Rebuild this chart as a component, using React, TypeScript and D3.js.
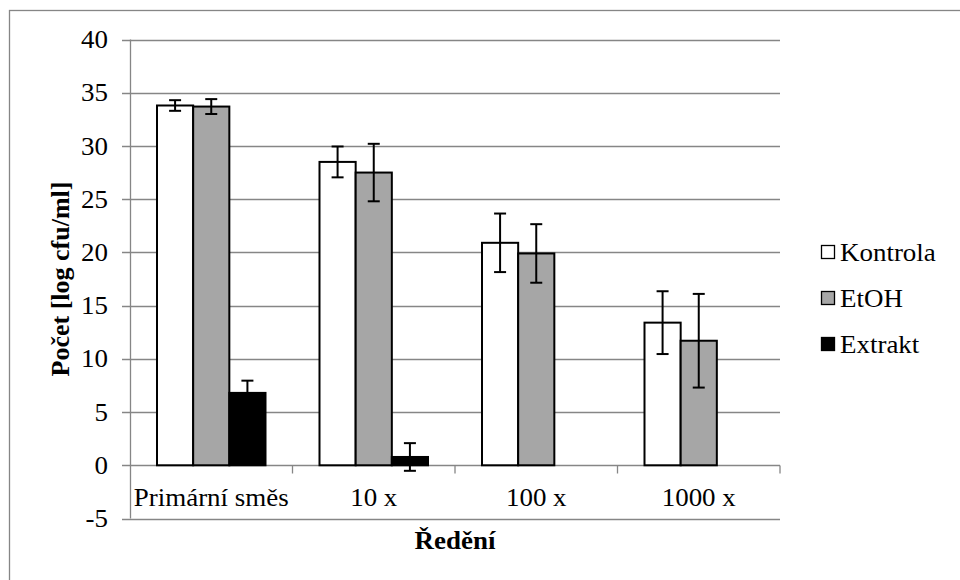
import { useEffect, useRef } from 'react';
import * as d3 from 'd3';

// categories and series
const categories = ['Primární směs', '10 x', '100 x', '1000 x'];
const seriesNames = ['Kontrola', 'EtOH', 'Extrakt'];
const seriesColors = ['#ffffff', '#a6a6a6', '#000000'];

const kontrola = [33.8, 28.5, 20.9, 13.4];
const kontrolaErr = [0.5, 1.45, 2.75, 2.95];
const etoh = [33.7, 27.5, 19.9, 11.7];
const etohErr = [0.7, 2.7, 2.75, 4.4];
const extrakt = [6.8, 0.78, 0, 0];
const extraktErr = [1.15, 1.3, 0, 0];

const yTicks = [-5, 0, 5, 10, 15, 20, 25, 30, 35, 40];

const values = [kontrola, etoh, extrakt];
const errors = [kontrolaErr, etohErr, extraktErr];

export default function App() {
    const ref = useRef<SVGSVGElement>(null);

    useEffect(() => {
        const svg = d3.select(ref.current);
        svg.selectAll('*').remove();

        // layout
        const left = 130;
        const right = 780;
        const top = 39.5;
        const bottom = 518.5;
        const gridColor = '#868686';
        // the original text is a bit wider than it is tall
        const stretch = 'scale(1.1,1)';

        const root = svg.append('g')
            .attr('font-family', 'Liberation Serif, Times New Roman, serif')
            .attr('font-size', 24.5);

        function place(x: number, y: number) {
            return 'translate(' + x + ',' + y + ') ' + stretch;
        }

        // outer frame (only top/left visible in window)
        root.append('rect')
            .attr('x', 9.5).attr('y', 10.5)
            .attr('width', 1000).attr('height', 1000)
            .attr('fill', 'white')
            .attr('stroke', gridColor)
            .attr('stroke-width', 1.3);

        // scales
        const y = d3.scaleLinear().domain([-5, 40]).range([bottom, top]);
        const x0 = d3.scaleBand().domain(categories).range([left, right]);
        const groupPad = 27;
        const x1 = d3.scaleBand().domain(seriesNames)
            .range([groupPad, x0.bandwidth() - groupPad]);

        // gridlines
        root.append('g').selectAll('line')
            .data(yTicks).enter()
            .append('line')
            .attr('x1', left - 8).attr('x2', right)
            .attr('y1', (d) => Math.round(y(d)) + 0.5)
            .attr('y2', (d) => Math.round(y(d)) + 0.5)
            .attr('stroke', gridColor)
            .attr('stroke-width', 1.3);

        // y axis line
        root.append('line')
            .attr('x1', left + 0.5).attr('x2', left + 0.5)
            .attr('y1', y(40)).attr('y2', y(-5))
            .attr('stroke', gridColor).attr('stroke-width', 1.3);

        // x axis category ticks
        const y0 = Math.round(y(0)) + 0.5;
        root.append('g').selectAll('line')
            .data(categories).enter()
            .append('line')
            .attr('x1', (d) => (x0(d) as number) + x0.bandwidth())
            .attr('x2', (d) => (x0(d) as number) + x0.bandwidth())
            .attr('y1', y0).attr('y2', y0 + 8)
            .attr('stroke', gridColor).attr('stroke-width', 1.3);

        // y tick labels
        root.append('g').selectAll('text')
            .data(yTicks).enter()
            .append('text')
            .attr('transform', (d) => place(108, y(d)))
            .attr('dy', '0.35em')
            .attr('text-anchor', 'end')
            .text((d) => d);

        // category labels
        root.append('g').selectAll('text')
            .data(categories).enter()
            .append('text')
            .attr('transform', (d) => place((x0(d) as number) + x0.bandwidth() / 2, 497))
            .attr('dy', '0.35em')
            .attr('text-anchor', 'middle')
            .text((d) => d);

        // bars
        seriesNames.forEach(function(name, si) {
            const g = root.append('g');
            g.selectAll('rect')
                .data(values[si]).enter()
                .append('rect')
                .attr('x', (d, i) => (x0(categories[i]) as number) + (x1(name) as number))
                .attr('y', (d) => y(Math.max(0, d)))
                .attr('width', x1.bandwidth())
                .attr('height', (d) => Math.abs(y(d) - y(0)))
                .attr('fill', seriesColors[si])
                .attr('stroke', (d) => (d === 0 ? '#7a7a7a' : 'black'))
                .attr('stroke-width', 2);

            // error bars
            const cap = 6;
            errors[si].forEach(function(e, i) {
                if (e === 0) {
                    return;
                }
                const cx = (x0(categories[i]) as number) + (x1(name) as number) + x1.bandwidth() / 2;
                const v = values[si][i];
                const eg = root.append('g')
                    .attr('stroke', 'black')
                    .attr('stroke-width', 2);
                eg.append('line')
                    .attr('x1', cx).attr('x2', cx)
                    .attr('y1', y(v + e)).attr('y2', y(v - e));
                eg.append('line')
                    .attr('x1', cx - cap).attr('x2', cx + cap)
                    .attr('y1', y(v + e)).attr('y2', y(v + e));
                eg.append('line')
                    .attr('x1', cx - cap).attr('x2', cx + cap)
                    .attr('y1', y(v - e)).attr('y2', y(v - e));
            });
        });

        // axis titles
        root.append('text')
            .attr('transform', place((left + right) / 2, 540))
            .attr('dy', '0.35em')
            .attr('text-anchor', 'middle')
            .attr('font-weight', 'bold')
            .text('Ředění');

        root.append('text')
            .attr('transform', 'translate(60,' + (top + bottom) / 2 + ') rotate(-90)')
            .attr('dy', '0.35em')
            .attr('text-anchor', 'middle')
            .attr('font-weight', 'bold')
            .attr('font-size', 26)
            .text('Počet [log cfu/ml]');

        // legend
        const legend = root.append('g');
        seriesNames.forEach(function(name, i) {
            const ly = 252 + i * 46;
            legend.append('rect')
                .attr('x', 821.5).attr('y', ly - 6.5)
                .attr('width', 13).attr('height', 13)
                .attr('fill', seriesColors[i])
                .attr('stroke', 'black')
                .attr('stroke-width', 1.3);
            legend.append('text')
                .attr('transform', place(840, ly))
                .attr('dy', '0.35em')
                .text(name);
        });
    }, []);

    return (
        <svg ref={ref} width={960} height={580}
            style={{ position: 'absolute', left: 0, top: 0, background: 'white' }} />
    );
}
